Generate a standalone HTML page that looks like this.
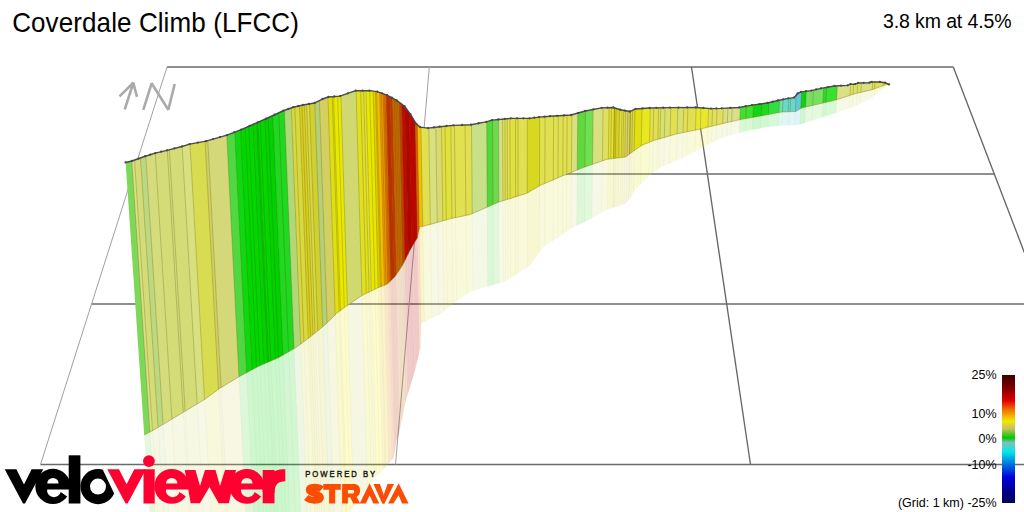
<!DOCTYPE html>
<html><head><meta charset="utf-8"><style>
html,body{margin:0;padding:0;background:#fff;}
body{width:1024px;height:512px;position:relative;overflow:hidden;font-family:"Liberation Sans",sans-serif;}
</style></head><body>
<svg width="1024" height="512" viewBox="0 0 1024 512" style="position:absolute;left:0;top:0">
<defs>
<clipPath id="cw"><polygon points="125.6,162.3 131.9,160.8 145.2,156.1 155.3,153 167,150.2 181.9,146.3 189.7,144 206,141 227,135 241.3,129.5 266,118.6 283.4,110.6 293.2,107.1 303,104.8 314.7,102.8 322.5,98.9 328.4,96.8 340,96 355.7,90.5 369.4,90.5 377.2,91.5 387,95 396.7,100.3 404.5,106.1 410.4,114 416.25,123.7 420.2,127 428,128 439.7,126.6 453.4,125.2 471,124.6 486.25,121.7 492,120 510.9,118.2 529.6,118.2 539,117 550,116.1 571.1,114.9 585.2,110.8 601.6,107.7 613.3,107.3 620.3,109.6 629.7,111.4 635.5,108.8 649.6,107.9 670,107.5 695.8,107.3 711,108.5 721.6,108.2 739.1,107.3 752,105 767.3,102.9 778,100.3 788.4,98.2 794,97.5 797.6,93.4 801,91.7 811.3,90.5 821,88.2 834.5,85.8 847.6,85.2 850.5,84 855.2,84 858.2,82.8 869.3,82.6 871.6,81.8 879.8,81.8 885.1,82.6 889,84.3 889,84.3 885.5,84.8 871.4,89.9 856,93.4 834.8,100.3 801.6,108 795.7,111.5 782,112 764.5,115.3 739,119.8 720,124.2 696,130 676.25,134 653.75,140.5 642,145.2 635,150 625.6,157 606.9,159.3 583.4,167.5 560,176.9 540.5,185.3 526.5,193.4 498.4,202.2 470.3,214.5 450,218.75 434,223.4 420,227 417.6,237.5 410.6,249.2 402.7,265 395.1,276.5 387.5,284.1 377.4,288 362,295.5 347,305.7 336.75,313.3 326.6,323.5 311.4,336.1 296,347.6 278.4,357.7 258,366.6 239,376.75 220,388.2 203.75,400 153.75,430 144.2,435"/></clipPath>
<clipPath id="cf"><polygon points="144.2,435 153.75,430 203.75,400 220,388.2 239,376.75 258,366.6 278.4,357.7 296,347.6 311.4,336.1 326.6,323.5 336.75,313.3 347,305.7 362,295.5 377.4,288 387.5,284.1 395.1,276.5 402.7,265 410.6,249.2 417.6,237.5 420,227 434,223.4 450,218.75 470.3,214.5 498.4,202.2 526.5,193.4 540.5,185.3 560,176.9 583.4,167.5 606.9,159.3 625.6,157 635,150 642,145.2 653.75,140.5 676.25,134 696,130 720,124.2 739,119.8 764.5,115.3 782,112 795.7,111.5 801.6,108 834.8,100.3 856,93.4 871.4,89.9 885.5,84.8 889,84.3 885.5,86.4 871.4,98.1 855,106.3 834.5,113.4 810.5,121 797.6,125 780,125.7 767.3,126.9 739.1,132.8 720.3,138.2 700.6,148.75 681.9,158.1 660.8,167.5 649,175.7 635,189.8 630.3,198 625.6,203.8 606.9,209.7 590.5,219 569.4,229.6 560,236.6 544,246 530,265.4 505.4,281.2 470.3,291.8 452.7,304 439.4,314.7 421,323.4 420.6,347.5 414.4,372.5 405,403.75 398.75,435 396.7,440 393.6,458 386.6,466 372.5,480 350,512 149.5,512"/></clipPath>
<linearGradient id="lg" x1="0" y1="0" x2="0" y2="1"><stop offset="0" stop-color="#3a0000"/><stop offset="0.1" stop-color="#800000"/><stop offset="0.2" stop-color="#e00000"/><stop offset="0.27" stop-color="#f07000"/><stop offset="0.36" stop-color="#f0e800"/><stop offset="0.42" stop-color="#c8c060"/><stop offset="0.49" stop-color="#00c800"/><stop offset="0.53" stop-color="#80c0c0"/><stop offset="0.6" stop-color="#00e8e8"/><stop offset="0.7" stop-color="#0070e0"/><stop offset="0.8" stop-color="#0000d8"/><stop offset="1" stop-color="#000050"/></linearGradient>
</defs>
<g stroke="#6a6a6a" stroke-width="1.3" fill="none">
<line x1="167" y1="67" x2="953.3" y2="67"/>
<line x1="133" y1="174" x2="995" y2="174"/>
<line x1="91.6" y1="304" x2="1024" y2="304"/>
<line x1="40.5" y1="464.5" x2="1024" y2="464.5"/>
</g>
<g stroke="#a0a0a0" stroke-width="1.0" fill="none">
<line x1="167" y1="67" x2="40.5" y2="464.5"/>
<line x1="429.3" y1="67" x2="395.5" y2="464.5"/>
</g>
<g stroke="#666" stroke-width="1.35" fill="none">
<line x1="691.5" y1="67" x2="750.5" y2="464.5"/>
<line x1="953.3" y1="67" x2="1105.5" y2="464.5"/>
</g>
<g stroke="#aaaaaa" stroke-width="2.6" fill="none" stroke-linecap="butt" stroke-linejoin="bevel">
<path d="M124.7,109.5 L133.3,82.8 M119.5,96.4 L133.3,82.8 L137,96.9"/>
<path d="M143.3,109.8 L151.6,83.3 L168.3,109.8 L174.7,84"/>
</g>
<g clip-path="url(#cf)" opacity="0.2">
<polygon points="112.78,60 125.55,60 156.33,520 144.51,520" fill="#7dd858"/>
<polygon points="125.05,60 128.38,60 158.95,520 155.83,520" fill="#d8e080"/>
<polygon points="127.88,60 134.57,60 164.66,520 158.45,520" fill="#d4dc78"/>
<polygon points="134.07,60 140.14,60 169.8,520 164.16,520" fill="#bcd880"/>
<polygon points="139.64,60 149.87,60 178.79,520 169.3,520" fill="#d4dc7c"/>
<polygon points="149.37,60 162.34,60 190.29,520 178.29,520" fill="#d4dc78"/>
<polygon points="161.84,60 164.47,60 192.26,520 189.79,520" fill="#d2da74"/>
<polygon points="163.97,60 177.64,60 204.42,520 191.76,520" fill="#d4dc78"/>
<polygon points="177.14,60 185.75,60 211.9,520 203.92,520" fill="#d8e080"/>
<polygon points="185.25,60 201.16,60 226.12,520 211.4,520" fill="#d8dc50"/>
<polygon points="200.66,60 204,60 228.74,520 225.62,520" fill="#d0d060"/>
<polygon points="203.5,60 223.46,60 246.71,520 228.24,520" fill="#d4d878"/>
<polygon points="222.96,60 231.77,60 254.38,520 246.21,520" fill="#50d840"/>
<polygon points="231.27,60 237.75,60 259.9,520 253.88,520" fill="#10d810"/>
<polygon points="237.25,60 250.62,60 271.78,520 259.4,520" fill="#00d800"/>
<polygon points="250.12,60 255.69,60 276.46,520 271.28,520" fill="#00d400"/>
<polygon points="255.19,60 262.78,60 283.01,520 275.96,520" fill="#00d800"/>
<polygon points="262.28,60 270.89,60 290.49,520 282.51,520" fill="#00d200"/>
<polygon points="270.39,60 282.85,60 301.53,520 289.99,520" fill="#20d820"/>
<polygon points="282.35,60 289.95,60 308.08,520 301.03,520" fill="#b0d878"/>
<polygon points="289.45,60 298.26,60 315.75,520 307.58,520" fill="#d8d840"/>
<polygon points="297.76,60 303.33,60 320.43,520 315.25,520" fill="#d8d020"/>
<polygon points="302.83,60 308.39,60 325.11,520 319.93,520" fill="#d8d840"/>
<polygon points="307.89,60 313.77,60 330.06,520 324.61,520" fill="#d0d030"/>
<polygon points="313.27,60 318.53,60 334.46,520 329.56,520" fill="#b4d078"/>
<polygon points="318.03,60 327.25,60 342.51,520 333.96,520" fill="#d4d060"/>
<polygon points="326.75,60 332.92,60 347.75,520 342.01,520" fill="#e0e010"/>
<polygon points="332.42,60 340.32,60 354.58,520 347.25,520" fill="#e8e800"/>
<polygon points="339.82,60 355.73,60 368.8,520 354.08,520" fill="#d0d870"/>
<polygon points="355.23,60 363.33,60 375.81,520 368.3,520" fill="#e0e020"/>
<polygon points="362.83,60 365.66,60 377.96,520 375.31,520" fill="#e0e040"/>
<polygon points="365.16,60 372.86,60 384.61,520 377.46,520" fill="#e8e800"/>
<polygon points="372.36,60 375.19,60 386.76,520 384.11,520" fill="#e0d000"/>
<polygon points="374.69,60 379.34,60 390.59,520 386.26,520" fill="#f0c000"/>
<polygon points="378.84,60 382.89,60 393.87,520 390.09,520" fill="#f09800"/>
<polygon points="382.39,60 385.93,60 396.67,520 393.37,520" fill="#e07000"/>
<polygon points="385.43,60 389.48,60 399.95,520 396.17,520" fill="#c83000"/>
<polygon points="388.98,60 391.81,60 402.1,520 399.45,520" fill="#d04000"/>
<polygon points="391.31,60 394.24,60 404.35,520 401.6,520" fill="#d06000"/>
<polygon points="393.74,60 398.91,60 408.65,520 403.85,520" fill="#c87000"/>
<polygon points="398.41,60 401.34,60 410.9,520 408.15,520" fill="#c04000"/>
<polygon points="400.84,60 404.89,60 414.17,520 410.4,520" fill="#c80800"/>
<polygon points="404.39,60 408.43,60 417.44,520 413.67,520" fill="#b80000"/>
<polygon points="407.93,60 414.41,60 422.96,520 416.94,520" fill="#c80000"/>
<polygon points="413.91,60 416.74,60 425.12,520 422.46,520" fill="#d86000"/>
<polygon points="416.24,60 420.29,60 428.39,520 424.62,520" fill="#f0c000"/>
<polygon points="419.79,60 428.2,60 435.69,520 427.89,520" fill="#e0e050"/>
<polygon points="427.7,60 435.29,60 442.24,520 435.19,520" fill="#d8e080"/>
<polygon points="434.79,60 441.07,60 447.57,520 441.74,520" fill="#d8dc70"/>
<polygon points="440.57,60 450.5,60 456.27,520 447.07,520" fill="#e0e040"/>
<polygon points="450,60 464.89,60 469.55,520 455.77,520" fill="#e0e050"/>
<polygon points="464.39,60 471.38,60 475.54,520 469.05,520" fill="#e0e050"/>
<polygon points="470.88,60 486.78,60 489.76,520 475.04,520" fill="#c8e088"/>
<polygon points="486.28,60 492.76,60 495.28,520 489.26,520" fill="#50d838"/>
<polygon points="492.26,60 498.74,60 500.8,520 494.78,520" fill="#70d850"/>
<polygon points="498.24,60 502.9,60 504.64,520 500.3,520" fill="#d0e088"/>
<polygon points="502.4,60 510.3,60 511.47,520 504.14,520" fill="#e0e050"/>
<polygon points="509.8,60 518.41,60 518.95,520 510.97,520" fill="#e0e040"/>
<polygon points="517.91,60 527.83,60 527.65,520 518.45,520" fill="#e0e050"/>
<polygon points="527.33,60 540.3,60 539.16,520 527.15,520" fill="#d8d820"/>
<polygon points="539.8,60 554.39,60 552.16,520 538.66,520" fill="#e0e050"/>
<polygon points="553.89,60 559.15,60 556.56,520 551.66,520" fill="#e0e050"/>
<polygon points="558.65,60 572.83,60 569.19,520 556.06,520" fill="#e0e050"/>
<polygon points="572.33,60 578.71,60 574.62,520 568.69,520" fill="#d8e080"/>
<polygon points="578.21,60 586.52,60 581.82,520 574.12,520" fill="#60d840"/>
<polygon points="586.02,60 594.22,60 588.93,520 581.32,520" fill="#70e050"/>
<polygon points="593.72,60 604.25,60 598.19,520 588.43,520" fill="#d8e080"/>
<polygon points="603.75,60 610.23,60 603.71,520 597.69,520" fill="#e0e060"/>
<polygon points="609.73,60 615.71,60 608.76,520 603.21,520" fill="#e0e030"/>
<polygon points="615.21,60 620.88,60 613.54,520 608.26,520" fill="#d8d020"/>
<polygon points="620.38,60 626.86,60 619.05,520 613.04,520" fill="#e0e040"/>
<polygon points="626.36,60 631.92,60 623.73,520 618.55,520" fill="#d8d060"/>
<polygon points="631.42,60 636.38,60 627.85,520 623.23,520" fill="#d8d840"/>
<polygon points="635.88,60 643.48,60 634.4,520 627.35,520" fill="#e0e010"/>
<polygon points="642.98,60 651.79,60 642.07,520 633.9,520" fill="#e8e820"/>
<polygon points="651.29,60 662.33,60 651.8,520 641.57,520" fill="#e0e050"/>
<polygon points="661.83,60 672.47,60 661.15,520 651.3,520" fill="#d8e070"/>
<polygon points="671.97,60 679.56,60 667.7,520 660.65,520" fill="#e0e050"/>
<polygon points="679.06,60 685.54,60 673.22,520 667.2,520" fill="#d8e070"/>
<polygon points="685.04,60 698.01,60 684.73,520 672.72,520" fill="#e0e050"/>
<polygon points="697.51,60 710.48,60 696.24,520 684.23,520" fill="#e8e830"/>
<polygon points="709.98,60 714.63,60 700.07,520 695.74,520" fill="#e0e050"/>
<polygon points="714.13,60 725.38,60 709.99,520 699.57,520" fill="#e0e060"/>
<polygon points="724.88,60 730.04,60 714.29,520 709.49,520" fill="#d8e080"/>
<polygon points="729.54,60 742.51,60 725.8,520 713.79,520" fill="#d8e088"/>
<polygon points="742.01,60 755.58,60 737.87,520 725.3,520" fill="#40e030"/>
<polygon points="755.08,60 763.89,60 745.54,520 737.37,520" fill="#10d810"/>
<polygon points="763.39,60 771.09,60 752.18,520 745.04,520" fill="#20d820"/>
<polygon points="770.59,60 781.73,60 762.01,520 751.68,520" fill="#30e040"/>
<polygon points="781.23,60 785.28,60 765.28,520 761.51,520" fill="#70e0a0"/>
<polygon points="784.78,60 798.15,60 777.16,520 764.78,520" fill="#68d8c8"/>
<polygon points="797.65,60 803.52,60 782.12,520 776.66,520" fill="#60c8d8"/>
<polygon points="803.02,60 808.29,60 786.52,520 781.62,520" fill="#10d010"/>
<polygon points="807.79,60 825.52,60 802.42,520 786.02,520" fill="#78e060"/>
<polygon points="825.02,60 828.56,60 805.23,520 801.92,520" fill="#30d830"/>
<polygon points="828.06,60 839.2,60 815.05,520 804.73,520" fill="#38e030"/>
<polygon points="838.7,60 852.48,60 827.31,520 814.55,520" fill="#d8e088"/>
<polygon points="851.98,60 855.42,60 830.02,520 826.81,520" fill="#e0e060"/>
<polygon points="854.92,60 859.57,60 833.86,520 829.52,520" fill="#d8e070"/>
<polygon points="859.07,60 863.22,60 837.23,520 833.36,520" fill="#e0e060"/>
<polygon points="862.72,60 874.47,60 847.61,520 836.73,520" fill="#d8e080"/>
<polygon points="873.97,60 876.8,60 849.76,520 847.11,520" fill="#e0e050"/>
<polygon points="876.3,60 885.11,60 857.43,520 849.26,520" fill="#e0e050"/>
<polygon points="884.61,60 900.52,60 871.65,520 856.93,520" fill="#e8e000"/>
</g>
<g clip-path="url(#cf)" stroke="#000" stroke-opacity="0.035" stroke-width="0.8">
<line x1="125.05" y1="60" x2="155.83" y2="520"/>
<line x1="127.88" y1="60" x2="158.45" y2="520"/>
<line x1="134.07" y1="60" x2="164.16" y2="520"/>
<line x1="139.64" y1="60" x2="169.3" y2="520"/>
<line x1="149.37" y1="60" x2="178.29" y2="520"/>
<line x1="161.84" y1="60" x2="189.79" y2="520"/>
<line x1="163.97" y1="60" x2="191.76" y2="520"/>
<line x1="177.14" y1="60" x2="203.92" y2="520"/>
<line x1="185.25" y1="60" x2="211.4" y2="520"/>
<line x1="200.66" y1="60" x2="225.62" y2="520"/>
<line x1="203.5" y1="60" x2="228.24" y2="520"/>
<line x1="222.96" y1="60" x2="246.21" y2="520"/>
<line x1="231.27" y1="60" x2="253.88" y2="520"/>
<line x1="237.25" y1="60" x2="259.4" y2="520"/>
<line x1="250.12" y1="60" x2="271.28" y2="520"/>
<line x1="255.19" y1="60" x2="275.96" y2="520"/>
<line x1="262.28" y1="60" x2="282.51" y2="520"/>
<line x1="270.39" y1="60" x2="289.99" y2="520"/>
<line x1="282.35" y1="60" x2="301.03" y2="520"/>
<line x1="289.45" y1="60" x2="307.58" y2="520"/>
<line x1="297.76" y1="60" x2="315.25" y2="520"/>
<line x1="302.83" y1="60" x2="319.93" y2="520"/>
<line x1="307.89" y1="60" x2="324.61" y2="520"/>
<line x1="313.27" y1="60" x2="329.56" y2="520"/>
<line x1="318.03" y1="60" x2="333.96" y2="520"/>
<line x1="326.75" y1="60" x2="342.01" y2="520"/>
<line x1="332.42" y1="60" x2="347.25" y2="520"/>
<line x1="339.82" y1="60" x2="354.08" y2="520"/>
<line x1="355.23" y1="60" x2="368.3" y2="520"/>
<line x1="362.83" y1="60" x2="375.31" y2="520"/>
<line x1="365.16" y1="60" x2="377.46" y2="520"/>
<line x1="372.36" y1="60" x2="384.11" y2="520"/>
<line x1="374.69" y1="60" x2="386.26" y2="520"/>
<line x1="378.84" y1="60" x2="390.09" y2="520"/>
<line x1="382.39" y1="60" x2="393.37" y2="520"/>
<line x1="385.43" y1="60" x2="396.17" y2="520"/>
<line x1="388.98" y1="60" x2="399.45" y2="520"/>
<line x1="391.31" y1="60" x2="401.6" y2="520"/>
<line x1="393.74" y1="60" x2="403.85" y2="520"/>
<line x1="398.41" y1="60" x2="408.15" y2="520"/>
<line x1="400.84" y1="60" x2="410.4" y2="520"/>
<line x1="404.39" y1="60" x2="413.67" y2="520"/>
<line x1="407.93" y1="60" x2="416.94" y2="520"/>
<line x1="413.91" y1="60" x2="422.46" y2="520"/>
<line x1="416.24" y1="60" x2="424.62" y2="520"/>
<line x1="419.79" y1="60" x2="427.89" y2="520"/>
<line x1="427.7" y1="60" x2="435.19" y2="520"/>
<line x1="434.79" y1="60" x2="441.74" y2="520"/>
<line x1="440.57" y1="60" x2="447.07" y2="520"/>
<line x1="450" y1="60" x2="455.77" y2="520"/>
<line x1="464.39" y1="60" x2="469.05" y2="520"/>
<line x1="470.88" y1="60" x2="475.04" y2="520"/>
<line x1="486.28" y1="60" x2="489.26" y2="520"/>
<line x1="492.26" y1="60" x2="494.78" y2="520"/>
<line x1="498.24" y1="60" x2="500.3" y2="520"/>
<line x1="502.4" y1="60" x2="504.14" y2="520"/>
<line x1="509.8" y1="60" x2="510.97" y2="520"/>
<line x1="517.91" y1="60" x2="518.45" y2="520"/>
<line x1="527.33" y1="60" x2="527.15" y2="520"/>
<line x1="539.8" y1="60" x2="538.66" y2="520"/>
<line x1="553.89" y1="60" x2="551.66" y2="520"/>
<line x1="558.65" y1="60" x2="556.06" y2="520"/>
<line x1="572.33" y1="60" x2="568.69" y2="520"/>
<line x1="578.21" y1="60" x2="574.12" y2="520"/>
<line x1="586.02" y1="60" x2="581.32" y2="520"/>
<line x1="593.72" y1="60" x2="588.43" y2="520"/>
<line x1="603.75" y1="60" x2="597.69" y2="520"/>
<line x1="609.73" y1="60" x2="603.21" y2="520"/>
<line x1="615.21" y1="60" x2="608.26" y2="520"/>
<line x1="620.38" y1="60" x2="613.04" y2="520"/>
<line x1="626.36" y1="60" x2="618.55" y2="520"/>
<line x1="631.42" y1="60" x2="623.23" y2="520"/>
<line x1="635.88" y1="60" x2="627.35" y2="520"/>
<line x1="642.98" y1="60" x2="633.9" y2="520"/>
<line x1="651.29" y1="60" x2="641.57" y2="520"/>
<line x1="661.83" y1="60" x2="651.3" y2="520"/>
<line x1="671.97" y1="60" x2="660.65" y2="520"/>
<line x1="679.06" y1="60" x2="667.2" y2="520"/>
<line x1="685.04" y1="60" x2="672.72" y2="520"/>
<line x1="697.51" y1="60" x2="684.23" y2="520"/>
<line x1="709.98" y1="60" x2="695.74" y2="520"/>
<line x1="714.13" y1="60" x2="699.57" y2="520"/>
<line x1="724.88" y1="60" x2="709.49" y2="520"/>
<line x1="729.54" y1="60" x2="713.79" y2="520"/>
<line x1="742.01" y1="60" x2="725.3" y2="520"/>
<line x1="755.08" y1="60" x2="737.37" y2="520"/>
<line x1="763.39" y1="60" x2="745.04" y2="520"/>
<line x1="770.59" y1="60" x2="751.68" y2="520"/>
<line x1="781.23" y1="60" x2="761.51" y2="520"/>
<line x1="784.78" y1="60" x2="764.78" y2="520"/>
<line x1="797.65" y1="60" x2="776.66" y2="520"/>
<line x1="803.02" y1="60" x2="781.62" y2="520"/>
<line x1="807.79" y1="60" x2="786.02" y2="520"/>
<line x1="825.02" y1="60" x2="801.92" y2="520"/>
<line x1="828.06" y1="60" x2="804.73" y2="520"/>
<line x1="838.7" y1="60" x2="814.55" y2="520"/>
<line x1="851.98" y1="60" x2="826.81" y2="520"/>
<line x1="854.92" y1="60" x2="829.52" y2="520"/>
<line x1="859.07" y1="60" x2="833.36" y2="520"/>
<line x1="862.72" y1="60" x2="836.73" y2="520"/>
<line x1="873.97" y1="60" x2="847.11" y2="520"/>
<line x1="876.3" y1="60" x2="849.26" y2="520"/>
<line x1="884.61" y1="60" x2="856.93" y2="520"/>
<line x1="242.01" y1="60" x2="263.79" y2="520"/>
<line x1="245.56" y1="60" x2="267.07" y2="520"/>
<line x1="253.87" y1="60" x2="274.74" y2="520"/>
<line x1="257.42" y1="60" x2="278.01" y2="520"/>
<line x1="265.73" y1="60" x2="285.69" y2="520"/>
<line x1="276.47" y1="60" x2="295.6" y2="520"/>
<line x1="292.99" y1="60" x2="310.85" y2="520"/>
<line x1="300.19" y1="60" x2="317.5" y2="520"/>
<line x1="304.95" y1="60" x2="321.89" y2="520"/>
<line x1="331.1" y1="60" x2="346.03" y2="520"/>
<line x1="336.48" y1="60" x2="350.99" y2="520"/>
<line x1="444.12" y1="60" x2="450.34" y2="520"/>
<line x1="453.64" y1="60" x2="459.14" y2="520"/>
<line x1="504.73" y1="60" x2="506.29" y2="520"/>
<line x1="507.06" y1="60" x2="508.44" y2="520"/>
<line x1="515.37" y1="60" x2="516.11" y2="520"/>
<line x1="545.27" y1="60" x2="543.71" y2="520"/>
<line x1="563.52" y1="60" x2="560.55" y2="520"/>
<line x1="567.57" y1="60" x2="564.29" y2="520"/>
<line x1="612.17" y1="60" x2="605.46" y2="520"/>
<line x1="615.11" y1="60" x2="608.17" y2="520"/>
<line x1="616.83" y1="60" x2="609.76" y2="520"/>
<line x1="622.81" y1="60" x2="615.28" y2="520"/>
<line x1="624.53" y1="60" x2="616.87" y2="520"/>
<line x1="628.79" y1="60" x2="620.8" y2="520"/>
<line x1="631.12" y1="60" x2="622.95" y2="520"/>
<line x1="633.45" y1="60" x2="625.1" y2="520"/>
<line x1="654.84" y1="60" x2="644.84" y2="520"/>
<line x1="659.6" y1="60" x2="649.24" y2="520"/>
<line x1="666.19" y1="60" x2="655.32" y2="520"/>
<line x1="689.2" y1="60" x2="676.56" y2="520"/>
<line x1="702.37" y1="60" x2="688.72" y2="520"/>
<line x1="718.59" y1="60" x2="703.69" y2="520"/>
<line x1="733.8" y1="60" x2="717.72" y2="520"/>
<line x1="747.99" y1="60" x2="730.82" y2="520"/>
<line x1="790.55" y1="60" x2="770.11" y2="520"/>
<line x1="792.38" y1="60" x2="771.8" y2="520"/>
<line x1="814.88" y1="60" x2="792.57" y2="520"/>
<line x1="359.79" y1="60" x2="372.51" y2="520"/>
<line x1="368.91" y1="60" x2="380.93" y2="520"/>
<line x1="375.8" y1="60" x2="387.29" y2="520"/>
<line x1="380.57" y1="60" x2="391.68" y2="520"/>
<line x1="384.11" y1="60" x2="394.96" y2="520"/>
<line x1="387.15" y1="60" x2="397.77" y2="520"/>
<line x1="390.2" y1="60" x2="400.57" y2="520"/>
<line x1="395.26" y1="60" x2="405.25" y2="520"/>
<line x1="396.78" y1="60" x2="406.65" y2="520"/>
<line x1="402.36" y1="60" x2="411.8" y2="520"/>
<line x1="406.41" y1="60" x2="415.54" y2="520"/>
<line x1="410.47" y1="60" x2="419.28" y2="520"/>
<line x1="411.99" y1="60" x2="420.69" y2="520"/>
</g>
<g clip-path="url(#cw)">
<polygon points="112.78,60 125.55,60 156.33,520 144.51,520" fill="#7dd858"/>
<polygon points="125.05,60 128.38,60 158.95,520 155.83,520" fill="#d8e080"/>
<polygon points="127.88,60 134.57,60 164.66,520 158.45,520" fill="#d4dc78"/>
<polygon points="134.07,60 140.14,60 169.8,520 164.16,520" fill="#bcd880"/>
<polygon points="139.64,60 149.87,60 178.79,520 169.3,520" fill="#d4dc7c"/>
<polygon points="149.37,60 162.34,60 190.29,520 178.29,520" fill="#d4dc78"/>
<polygon points="161.84,60 164.47,60 192.26,520 189.79,520" fill="#d2da74"/>
<polygon points="163.97,60 177.64,60 204.42,520 191.76,520" fill="#d4dc78"/>
<polygon points="177.14,60 185.75,60 211.9,520 203.92,520" fill="#d8e080"/>
<polygon points="185.25,60 201.16,60 226.12,520 211.4,520" fill="#d8dc50"/>
<polygon points="200.66,60 204,60 228.74,520 225.62,520" fill="#d0d060"/>
<polygon points="203.5,60 223.46,60 246.71,520 228.24,520" fill="#d4d878"/>
<polygon points="222.96,60 231.77,60 254.38,520 246.21,520" fill="#50d840"/>
<polygon points="231.27,60 237.75,60 259.9,520 253.88,520" fill="#10d810"/>
<polygon points="237.25,60 250.62,60 271.78,520 259.4,520" fill="#00d800"/>
<polygon points="250.12,60 255.69,60 276.46,520 271.28,520" fill="#00d400"/>
<polygon points="255.19,60 262.78,60 283.01,520 275.96,520" fill="#00d800"/>
<polygon points="262.28,60 270.89,60 290.49,520 282.51,520" fill="#00d200"/>
<polygon points="270.39,60 282.85,60 301.53,520 289.99,520" fill="#20d820"/>
<polygon points="282.35,60 289.95,60 308.08,520 301.03,520" fill="#b0d878"/>
<polygon points="289.45,60 298.26,60 315.75,520 307.58,520" fill="#d8d840"/>
<polygon points="297.76,60 303.33,60 320.43,520 315.25,520" fill="#d8d020"/>
<polygon points="302.83,60 308.39,60 325.11,520 319.93,520" fill="#d8d840"/>
<polygon points="307.89,60 313.77,60 330.06,520 324.61,520" fill="#d0d030"/>
<polygon points="313.27,60 318.53,60 334.46,520 329.56,520" fill="#b4d078"/>
<polygon points="318.03,60 327.25,60 342.51,520 333.96,520" fill="#d4d060"/>
<polygon points="326.75,60 332.92,60 347.75,520 342.01,520" fill="#e0e010"/>
<polygon points="332.42,60 340.32,60 354.58,520 347.25,520" fill="#e8e800"/>
<polygon points="339.82,60 355.73,60 368.8,520 354.08,520" fill="#d0d870"/>
<polygon points="355.23,60 363.33,60 375.81,520 368.3,520" fill="#e0e020"/>
<polygon points="362.83,60 365.66,60 377.96,520 375.31,520" fill="#e0e040"/>
<polygon points="365.16,60 372.86,60 384.61,520 377.46,520" fill="#e8e800"/>
<polygon points="372.36,60 375.19,60 386.76,520 384.11,520" fill="#e0d000"/>
<polygon points="374.69,60 379.34,60 390.59,520 386.26,520" fill="#f0c000"/>
<polygon points="378.84,60 382.89,60 393.87,520 390.09,520" fill="#f09800"/>
<polygon points="382.39,60 385.93,60 396.67,520 393.37,520" fill="#e07000"/>
<polygon points="385.43,60 389.48,60 399.95,520 396.17,520" fill="#c83000"/>
<polygon points="388.98,60 391.81,60 402.1,520 399.45,520" fill="#d04000"/>
<polygon points="391.31,60 394.24,60 404.35,520 401.6,520" fill="#d06000"/>
<polygon points="393.74,60 398.91,60 408.65,520 403.85,520" fill="#c87000"/>
<polygon points="398.41,60 401.34,60 410.9,520 408.15,520" fill="#c04000"/>
<polygon points="400.84,60 404.89,60 414.17,520 410.4,520" fill="#c80800"/>
<polygon points="404.39,60 408.43,60 417.44,520 413.67,520" fill="#b80000"/>
<polygon points="407.93,60 414.41,60 422.96,520 416.94,520" fill="#c80000"/>
<polygon points="413.91,60 416.74,60 425.12,520 422.46,520" fill="#d86000"/>
<polygon points="416.24,60 420.29,60 428.39,520 424.62,520" fill="#f0c000"/>
<polygon points="419.79,60 428.2,60 435.69,520 427.89,520" fill="#e0e050"/>
<polygon points="427.7,60 435.29,60 442.24,520 435.19,520" fill="#d8e080"/>
<polygon points="434.79,60 441.07,60 447.57,520 441.74,520" fill="#d8dc70"/>
<polygon points="440.57,60 450.5,60 456.27,520 447.07,520" fill="#e0e040"/>
<polygon points="450,60 464.89,60 469.55,520 455.77,520" fill="#e0e050"/>
<polygon points="464.39,60 471.38,60 475.54,520 469.05,520" fill="#e0e050"/>
<polygon points="470.88,60 486.78,60 489.76,520 475.04,520" fill="#c8e088"/>
<polygon points="486.28,60 492.76,60 495.28,520 489.26,520" fill="#50d838"/>
<polygon points="492.26,60 498.74,60 500.8,520 494.78,520" fill="#70d850"/>
<polygon points="498.24,60 502.9,60 504.64,520 500.3,520" fill="#d0e088"/>
<polygon points="502.4,60 510.3,60 511.47,520 504.14,520" fill="#e0e050"/>
<polygon points="509.8,60 518.41,60 518.95,520 510.97,520" fill="#e0e040"/>
<polygon points="517.91,60 527.83,60 527.65,520 518.45,520" fill="#e0e050"/>
<polygon points="527.33,60 540.3,60 539.16,520 527.15,520" fill="#d8d820"/>
<polygon points="539.8,60 554.39,60 552.16,520 538.66,520" fill="#e0e050"/>
<polygon points="553.89,60 559.15,60 556.56,520 551.66,520" fill="#e0e050"/>
<polygon points="558.65,60 572.83,60 569.19,520 556.06,520" fill="#e0e050"/>
<polygon points="572.33,60 578.71,60 574.62,520 568.69,520" fill="#d8e080"/>
<polygon points="578.21,60 586.52,60 581.82,520 574.12,520" fill="#60d840"/>
<polygon points="586.02,60 594.22,60 588.93,520 581.32,520" fill="#70e050"/>
<polygon points="593.72,60 604.25,60 598.19,520 588.43,520" fill="#d8e080"/>
<polygon points="603.75,60 610.23,60 603.71,520 597.69,520" fill="#e0e060"/>
<polygon points="609.73,60 615.71,60 608.76,520 603.21,520" fill="#e0e030"/>
<polygon points="615.21,60 620.88,60 613.54,520 608.26,520" fill="#d8d020"/>
<polygon points="620.38,60 626.86,60 619.05,520 613.04,520" fill="#e0e040"/>
<polygon points="626.36,60 631.92,60 623.73,520 618.55,520" fill="#d8d060"/>
<polygon points="631.42,60 636.38,60 627.85,520 623.23,520" fill="#d8d840"/>
<polygon points="635.88,60 643.48,60 634.4,520 627.35,520" fill="#e0e010"/>
<polygon points="642.98,60 651.79,60 642.07,520 633.9,520" fill="#e8e820"/>
<polygon points="651.29,60 662.33,60 651.8,520 641.57,520" fill="#e0e050"/>
<polygon points="661.83,60 672.47,60 661.15,520 651.3,520" fill="#d8e070"/>
<polygon points="671.97,60 679.56,60 667.7,520 660.65,520" fill="#e0e050"/>
<polygon points="679.06,60 685.54,60 673.22,520 667.2,520" fill="#d8e070"/>
<polygon points="685.04,60 698.01,60 684.73,520 672.72,520" fill="#e0e050"/>
<polygon points="697.51,60 710.48,60 696.24,520 684.23,520" fill="#e8e830"/>
<polygon points="709.98,60 714.63,60 700.07,520 695.74,520" fill="#e0e050"/>
<polygon points="714.13,60 725.38,60 709.99,520 699.57,520" fill="#e0e060"/>
<polygon points="724.88,60 730.04,60 714.29,520 709.49,520" fill="#d8e080"/>
<polygon points="729.54,60 742.51,60 725.8,520 713.79,520" fill="#d8e088"/>
<polygon points="742.01,60 755.58,60 737.87,520 725.3,520" fill="#40e030"/>
<polygon points="755.08,60 763.89,60 745.54,520 737.37,520" fill="#10d810"/>
<polygon points="763.39,60 771.09,60 752.18,520 745.04,520" fill="#20d820"/>
<polygon points="770.59,60 781.73,60 762.01,520 751.68,520" fill="#30e040"/>
<polygon points="781.23,60 785.28,60 765.28,520 761.51,520" fill="#70e0a0"/>
<polygon points="784.78,60 798.15,60 777.16,520 764.78,520" fill="#68d8c8"/>
<polygon points="797.65,60 803.52,60 782.12,520 776.66,520" fill="#60c8d8"/>
<polygon points="803.02,60 808.29,60 786.52,520 781.62,520" fill="#10d010"/>
<polygon points="807.79,60 825.52,60 802.42,520 786.02,520" fill="#78e060"/>
<polygon points="825.02,60 828.56,60 805.23,520 801.92,520" fill="#30d830"/>
<polygon points="828.06,60 839.2,60 815.05,520 804.73,520" fill="#38e030"/>
<polygon points="838.7,60 852.48,60 827.31,520 814.55,520" fill="#d8e088"/>
<polygon points="851.98,60 855.42,60 830.02,520 826.81,520" fill="#e0e060"/>
<polygon points="854.92,60 859.57,60 833.86,520 829.52,520" fill="#d8e070"/>
<polygon points="859.07,60 863.22,60 837.23,520 833.36,520" fill="#e0e060"/>
<polygon points="862.72,60 874.47,60 847.61,520 836.73,520" fill="#d8e080"/>
<polygon points="873.97,60 876.8,60 849.76,520 847.11,520" fill="#e0e050"/>
<polygon points="876.3,60 885.11,60 857.43,520 849.26,520" fill="#e0e050"/>
<polygon points="884.61,60 900.52,60 871.65,520 856.93,520" fill="#e8e000"/>
<g stroke="#504000" stroke-opacity="0.3" stroke-width="0.8">
<line x1="125.05" y1="60" x2="155.83" y2="520"/>
<line x1="127.88" y1="60" x2="158.45" y2="520"/>
<line x1="134.07" y1="60" x2="164.16" y2="520"/>
<line x1="139.64" y1="60" x2="169.3" y2="520"/>
<line x1="149.37" y1="60" x2="178.29" y2="520"/>
<line x1="161.84" y1="60" x2="189.79" y2="520"/>
<line x1="163.97" y1="60" x2="191.76" y2="520"/>
<line x1="177.14" y1="60" x2="203.92" y2="520"/>
<line x1="185.25" y1="60" x2="211.4" y2="520"/>
<line x1="200.66" y1="60" x2="225.62" y2="520"/>
<line x1="203.5" y1="60" x2="228.24" y2="520"/>
<line x1="222.96" y1="60" x2="246.21" y2="520"/>
<line x1="231.27" y1="60" x2="253.88" y2="520"/>
<line x1="237.25" y1="60" x2="259.4" y2="520"/>
<line x1="250.12" y1="60" x2="271.28" y2="520"/>
<line x1="255.19" y1="60" x2="275.96" y2="520"/>
<line x1="262.28" y1="60" x2="282.51" y2="520"/>
<line x1="270.39" y1="60" x2="289.99" y2="520"/>
<line x1="282.35" y1="60" x2="301.03" y2="520"/>
<line x1="289.45" y1="60" x2="307.58" y2="520"/>
<line x1="297.76" y1="60" x2="315.25" y2="520"/>
<line x1="302.83" y1="60" x2="319.93" y2="520"/>
<line x1="307.89" y1="60" x2="324.61" y2="520"/>
<line x1="313.27" y1="60" x2="329.56" y2="520"/>
<line x1="318.03" y1="60" x2="333.96" y2="520"/>
<line x1="326.75" y1="60" x2="342.01" y2="520"/>
<line x1="332.42" y1="60" x2="347.25" y2="520"/>
<line x1="339.82" y1="60" x2="354.08" y2="520"/>
<line x1="355.23" y1="60" x2="368.3" y2="520"/>
<line x1="362.83" y1="60" x2="375.31" y2="520"/>
<line x1="365.16" y1="60" x2="377.46" y2="520"/>
<line x1="372.36" y1="60" x2="384.11" y2="520"/>
<line x1="374.69" y1="60" x2="386.26" y2="520"/>
<line x1="378.84" y1="60" x2="390.09" y2="520"/>
<line x1="382.39" y1="60" x2="393.37" y2="520"/>
<line x1="385.43" y1="60" x2="396.17" y2="520"/>
<line x1="388.98" y1="60" x2="399.45" y2="520"/>
<line x1="391.31" y1="60" x2="401.6" y2="520"/>
<line x1="393.74" y1="60" x2="403.85" y2="520"/>
<line x1="398.41" y1="60" x2="408.15" y2="520"/>
<line x1="400.84" y1="60" x2="410.4" y2="520"/>
<line x1="404.39" y1="60" x2="413.67" y2="520"/>
<line x1="407.93" y1="60" x2="416.94" y2="520"/>
<line x1="413.91" y1="60" x2="422.46" y2="520"/>
<line x1="416.24" y1="60" x2="424.62" y2="520"/>
<line x1="419.79" y1="60" x2="427.89" y2="520"/>
<line x1="427.7" y1="60" x2="435.19" y2="520"/>
<line x1="434.79" y1="60" x2="441.74" y2="520"/>
<line x1="440.57" y1="60" x2="447.07" y2="520"/>
<line x1="450" y1="60" x2="455.77" y2="520"/>
<line x1="464.39" y1="60" x2="469.05" y2="520"/>
<line x1="470.88" y1="60" x2="475.04" y2="520"/>
<line x1="486.28" y1="60" x2="489.26" y2="520"/>
<line x1="492.26" y1="60" x2="494.78" y2="520"/>
<line x1="498.24" y1="60" x2="500.3" y2="520"/>
<line x1="502.4" y1="60" x2="504.14" y2="520"/>
<line x1="509.8" y1="60" x2="510.97" y2="520"/>
<line x1="517.91" y1="60" x2="518.45" y2="520"/>
<line x1="527.33" y1="60" x2="527.15" y2="520"/>
<line x1="539.8" y1="60" x2="538.66" y2="520"/>
<line x1="553.89" y1="60" x2="551.66" y2="520"/>
<line x1="558.65" y1="60" x2="556.06" y2="520"/>
<line x1="572.33" y1="60" x2="568.69" y2="520"/>
<line x1="578.21" y1="60" x2="574.12" y2="520"/>
<line x1="586.02" y1="60" x2="581.32" y2="520"/>
<line x1="593.72" y1="60" x2="588.43" y2="520"/>
<line x1="603.75" y1="60" x2="597.69" y2="520"/>
<line x1="609.73" y1="60" x2="603.21" y2="520"/>
<line x1="615.21" y1="60" x2="608.26" y2="520"/>
<line x1="620.38" y1="60" x2="613.04" y2="520"/>
<line x1="626.36" y1="60" x2="618.55" y2="520"/>
<line x1="631.42" y1="60" x2="623.23" y2="520"/>
<line x1="635.88" y1="60" x2="627.35" y2="520"/>
<line x1="642.98" y1="60" x2="633.9" y2="520"/>
<line x1="651.29" y1="60" x2="641.57" y2="520"/>
<line x1="661.83" y1="60" x2="651.3" y2="520"/>
<line x1="671.97" y1="60" x2="660.65" y2="520"/>
<line x1="679.06" y1="60" x2="667.2" y2="520"/>
<line x1="685.04" y1="60" x2="672.72" y2="520"/>
<line x1="697.51" y1="60" x2="684.23" y2="520"/>
<line x1="709.98" y1="60" x2="695.74" y2="520"/>
<line x1="714.13" y1="60" x2="699.57" y2="520"/>
<line x1="724.88" y1="60" x2="709.49" y2="520"/>
<line x1="729.54" y1="60" x2="713.79" y2="520"/>
<line x1="742.01" y1="60" x2="725.3" y2="520"/>
<line x1="755.08" y1="60" x2="737.37" y2="520"/>
<line x1="763.39" y1="60" x2="745.04" y2="520"/>
<line x1="770.59" y1="60" x2="751.68" y2="520"/>
<line x1="781.23" y1="60" x2="761.51" y2="520"/>
<line x1="784.78" y1="60" x2="764.78" y2="520"/>
<line x1="797.65" y1="60" x2="776.66" y2="520"/>
<line x1="803.02" y1="60" x2="781.62" y2="520"/>
<line x1="807.79" y1="60" x2="786.02" y2="520"/>
<line x1="825.02" y1="60" x2="801.92" y2="520"/>
<line x1="828.06" y1="60" x2="804.73" y2="520"/>
<line x1="838.7" y1="60" x2="814.55" y2="520"/>
<line x1="851.98" y1="60" x2="826.81" y2="520"/>
<line x1="854.92" y1="60" x2="829.52" y2="520"/>
<line x1="859.07" y1="60" x2="833.36" y2="520"/>
<line x1="862.72" y1="60" x2="836.73" y2="520"/>
<line x1="873.97" y1="60" x2="847.11" y2="520"/>
<line x1="876.3" y1="60" x2="849.26" y2="520"/>
<line x1="884.61" y1="60" x2="856.93" y2="520"/>
<line x1="242.01" y1="60" x2="263.79" y2="520"/>
<line x1="245.56" y1="60" x2="267.07" y2="520"/>
<line x1="253.87" y1="60" x2="274.74" y2="520"/>
<line x1="257.42" y1="60" x2="278.01" y2="520"/>
<line x1="265.73" y1="60" x2="285.69" y2="520"/>
<line x1="276.47" y1="60" x2="295.6" y2="520"/>
<line x1="292.99" y1="60" x2="310.85" y2="520"/>
<line x1="300.19" y1="60" x2="317.5" y2="520"/>
<line x1="304.95" y1="60" x2="321.89" y2="520"/>
<line x1="331.1" y1="60" x2="346.03" y2="520"/>
<line x1="336.48" y1="60" x2="350.99" y2="520"/>
<line x1="444.12" y1="60" x2="450.34" y2="520"/>
<line x1="453.64" y1="60" x2="459.14" y2="520"/>
<line x1="504.73" y1="60" x2="506.29" y2="520"/>
<line x1="507.06" y1="60" x2="508.44" y2="520"/>
<line x1="515.37" y1="60" x2="516.11" y2="520"/>
<line x1="545.27" y1="60" x2="543.71" y2="520"/>
<line x1="563.52" y1="60" x2="560.55" y2="520"/>
<line x1="567.57" y1="60" x2="564.29" y2="520"/>
<line x1="612.17" y1="60" x2="605.46" y2="520"/>
<line x1="615.11" y1="60" x2="608.17" y2="520"/>
<line x1="616.83" y1="60" x2="609.76" y2="520"/>
<line x1="622.81" y1="60" x2="615.28" y2="520"/>
<line x1="624.53" y1="60" x2="616.87" y2="520"/>
<line x1="628.79" y1="60" x2="620.8" y2="520"/>
<line x1="631.12" y1="60" x2="622.95" y2="520"/>
<line x1="633.45" y1="60" x2="625.1" y2="520"/>
<line x1="654.84" y1="60" x2="644.84" y2="520"/>
<line x1="659.6" y1="60" x2="649.24" y2="520"/>
<line x1="666.19" y1="60" x2="655.32" y2="520"/>
<line x1="689.2" y1="60" x2="676.56" y2="520"/>
<line x1="702.37" y1="60" x2="688.72" y2="520"/>
<line x1="718.59" y1="60" x2="703.69" y2="520"/>
<line x1="733.8" y1="60" x2="717.72" y2="520"/>
<line x1="747.99" y1="60" x2="730.82" y2="520"/>
<line x1="790.55" y1="60" x2="770.11" y2="520"/>
<line x1="792.38" y1="60" x2="771.8" y2="520"/>
<line x1="814.88" y1="60" x2="792.57" y2="520"/>
<line x1="359.79" y1="60" x2="372.51" y2="520"/>
<line x1="368.91" y1="60" x2="380.93" y2="520"/>
<line x1="375.8" y1="60" x2="387.29" y2="520"/>
<line x1="380.57" y1="60" x2="391.68" y2="520"/>
<line x1="384.11" y1="60" x2="394.96" y2="520"/>
<line x1="387.15" y1="60" x2="397.77" y2="520"/>
<line x1="390.2" y1="60" x2="400.57" y2="520"/>
<line x1="395.26" y1="60" x2="405.25" y2="520"/>
<line x1="396.78" y1="60" x2="406.65" y2="520"/>
<line x1="402.36" y1="60" x2="411.8" y2="520"/>
<line x1="406.41" y1="60" x2="415.54" y2="520"/>
<line x1="410.47" y1="60" x2="419.28" y2="520"/>
<line x1="411.99" y1="60" x2="420.69" y2="520"/>
</g>
</g>
<polyline points="144.2,435 153.75,430 203.75,400 220,388.2 239,376.75 258,366.6 278.4,357.7 296,347.6 311.4,336.1 326.6,323.5 336.75,313.3 347,305.7 362,295.5 377.4,288 387.5,284.1 395.1,276.5 402.7,265 410.6,249.2 417.6,237.5" fill="none" stroke="#807000" stroke-opacity="0.45" stroke-width="0.9"/>
<polyline points="420,227 434,223.4 450,218.75 470.3,214.5 498.4,202.2 526.5,193.4 540.5,185.3 560,176.9 583.4,167.5 606.9,159.3 625.6,157 635,150 642,145.2 653.75,140.5 676.25,134 696,130 720,124.2 739,119.8 764.5,115.3 782,112 795.7,111.5 801.6,108 834.8,100.3 856,93.4 871.4,89.9 885.5,84.8 889,84.3" fill="none" stroke="#807000" stroke-opacity="0.45" stroke-width="0.9"/>
<polyline points="125.6,162.3 131.9,160.8 145.2,156.1 155.3,153 167,150.2 181.9,146.3 189.7,144 206,141 227,135 241.3,129.5 266,118.6 283.4,110.6 293.2,107.1 303,104.8 314.7,102.8 322.5,98.9 328.4,96.8 340,96 355.7,90.5 369.4,90.5 377.2,91.5 387,95 396.7,100.3 404.5,106.1 410.4,114 416.25,123.7 420.2,127 428,128 439.7,126.6 453.4,125.2 471,124.6 486.25,121.7 492,120 510.9,118.2 529.6,118.2 539,117 550,116.1 571.1,114.9 585.2,110.8 601.6,107.7 613.3,107.3 620.3,109.6 629.7,111.4 635.5,108.8 649.6,107.9 670,107.5 695.8,107.3 711,108.5 721.6,108.2 739.1,107.3 752,105 767.3,102.9 778,100.3 788.4,98.2 794,97.5 797.6,93.4 801,91.7 811.3,90.5 821,88.2 834.5,85.8 847.6,85.2 850.5,84 855.2,84 858.2,82.8 869.3,82.6 871.6,81.8 879.8,81.8 885.1,82.6 889,84.3" fill="none" stroke="#4a4a4a" stroke-width="1.45" stroke-linejoin="round" transform="translate(0,0.15)"/>
<g fill="#484848">
<circle cx="125.6" cy="162.4" r="1.15"/>
<circle cx="131.9" cy="160.9" r="1.15"/>
<circle cx="138.55" cy="158.55" r="1.15"/>
<circle cx="145.2" cy="156.2" r="1.15"/>
<circle cx="150.25" cy="154.65" r="1.15"/>
<circle cx="155.3" cy="153.1" r="1.15"/>
<circle cx="161.15" cy="151.7" r="1.15"/>
<circle cx="167" cy="150.3" r="1.15"/>
<circle cx="174.45" cy="148.35" r="1.15"/>
<circle cx="181.9" cy="146.4" r="1.15"/>
<circle cx="189.7" cy="144.1" r="1.15"/>
<circle cx="197.85" cy="142.6" r="1.15"/>
<circle cx="206" cy="141.1" r="1.15"/>
<circle cx="213" cy="139.1" r="1.15"/>
<circle cx="220" cy="137.1" r="1.15"/>
<circle cx="227" cy="135.1" r="1.15"/>
<circle cx="234.15" cy="132.35" r="1.15"/>
<circle cx="241.3" cy="129.6" r="1.15"/>
<circle cx="249.53" cy="125.97" r="1.15"/>
<circle cx="257.77" cy="122.33" r="1.15"/>
<circle cx="266" cy="118.7" r="1.15"/>
<circle cx="274.7" cy="114.7" r="1.15"/>
<circle cx="283.4" cy="110.7" r="1.15"/>
<circle cx="288.3" cy="108.95" r="1.15"/>
<circle cx="293.2" cy="107.2" r="1.15"/>
<circle cx="298.1" cy="106.05" r="1.15"/>
<circle cx="303" cy="104.9" r="1.15"/>
<circle cx="308.85" cy="103.9" r="1.15"/>
<circle cx="314.7" cy="102.9" r="1.15"/>
<circle cx="322.5" cy="99" r="1.15"/>
<circle cx="328.4" cy="96.9" r="1.15"/>
<circle cx="334.2" cy="96.5" r="1.15"/>
<circle cx="340" cy="96.1" r="1.15"/>
<circle cx="347.85" cy="93.35" r="1.15"/>
<circle cx="355.7" cy="90.6" r="1.15"/>
<circle cx="362.55" cy="90.6" r="1.15"/>
<circle cx="369.4" cy="90.6" r="1.15"/>
<circle cx="377.2" cy="91.6" r="1.15"/>
<circle cx="382.1" cy="93.35" r="1.15"/>
<circle cx="387" cy="95.1" r="1.15"/>
<circle cx="391.85" cy="97.75" r="1.15"/>
<circle cx="396.7" cy="100.4" r="1.15"/>
<circle cx="404.5" cy="106.2" r="1.15"/>
<circle cx="410.4" cy="114.1" r="1.15"/>
<circle cx="416.25" cy="123.8" r="1.15"/>
<circle cx="420.2" cy="127.1" r="1.15"/>
<circle cx="428" cy="128.1" r="1.15"/>
<circle cx="433.85" cy="127.4" r="1.15"/>
<circle cx="439.7" cy="126.7" r="1.15"/>
<circle cx="446.55" cy="126" r="1.15"/>
<circle cx="453.4" cy="125.3" r="1.15"/>
<circle cx="462.2" cy="125" r="1.15"/>
<circle cx="471" cy="124.7" r="1.15"/>
<circle cx="478.62" cy="123.25" r="1.15"/>
<circle cx="486.25" cy="121.8" r="1.15"/>
<circle cx="492" cy="120.1" r="1.15"/>
<circle cx="498.3" cy="119.5" r="1.15"/>
<circle cx="504.6" cy="118.9" r="1.15"/>
<circle cx="510.9" cy="118.3" r="1.15"/>
<circle cx="517.13" cy="118.3" r="1.15"/>
<circle cx="523.37" cy="118.3" r="1.15"/>
<circle cx="529.6" cy="118.3" r="1.15"/>
<circle cx="534.3" cy="117.7" r="1.15"/>
<circle cx="539" cy="117.1" r="1.15"/>
<circle cx="544.5" cy="116.65" r="1.15"/>
<circle cx="550" cy="116.2" r="1.15"/>
<circle cx="557.03" cy="115.8" r="1.15"/>
<circle cx="564.07" cy="115.4" r="1.15"/>
<circle cx="571.1" cy="115" r="1.15"/>
<circle cx="578.15" cy="112.95" r="1.15"/>
<circle cx="585.2" cy="110.9" r="1.15"/>
<circle cx="593.4" cy="109.35" r="1.15"/>
<circle cx="601.6" cy="107.8" r="1.15"/>
<circle cx="607.45" cy="107.6" r="1.15"/>
<circle cx="613.3" cy="107.4" r="1.15"/>
<circle cx="620.3" cy="109.7" r="1.15"/>
<circle cx="625" cy="110.6" r="1.15"/>
<circle cx="629.7" cy="111.5" r="1.15"/>
<circle cx="635.5" cy="108.9" r="1.15"/>
<circle cx="642.55" cy="108.45" r="1.15"/>
<circle cx="649.6" cy="108" r="1.15"/>
<circle cx="656.4" cy="107.87" r="1.15"/>
<circle cx="663.2" cy="107.73" r="1.15"/>
<circle cx="670" cy="107.6" r="1.15"/>
<circle cx="678.6" cy="107.53" r="1.15"/>
<circle cx="687.2" cy="107.47" r="1.15"/>
<circle cx="695.8" cy="107.4" r="1.15"/>
<circle cx="703.4" cy="108" r="1.15"/>
<circle cx="711" cy="108.6" r="1.15"/>
<circle cx="716.3" cy="108.45" r="1.15"/>
<circle cx="721.6" cy="108.3" r="1.15"/>
<circle cx="730.35" cy="107.85" r="1.15"/>
<circle cx="739.1" cy="107.4" r="1.15"/>
<circle cx="745.55" cy="106.25" r="1.15"/>
<circle cx="752" cy="105.1" r="1.15"/>
<circle cx="759.65" cy="104.05" r="1.15"/>
<circle cx="767.3" cy="103" r="1.15"/>
<circle cx="772.65" cy="101.7" r="1.15"/>
<circle cx="778" cy="100.4" r="1.15"/>
<circle cx="783.2" cy="99.35" r="1.15"/>
<circle cx="788.4" cy="98.3" r="1.15"/>
<circle cx="794" cy="97.6" r="1.15"/>
<circle cx="797.6" cy="93.5" r="1.15"/>
<circle cx="801" cy="91.8" r="1.15"/>
<circle cx="806.15" cy="91.2" r="1.15"/>
<circle cx="811.3" cy="90.6" r="1.15"/>
<circle cx="816.15" cy="89.45" r="1.15"/>
<circle cx="821" cy="88.3" r="1.15"/>
<circle cx="827.75" cy="87.1" r="1.15"/>
<circle cx="834.5" cy="85.9" r="1.15"/>
<circle cx="841.05" cy="85.6" r="1.15"/>
<circle cx="847.6" cy="85.3" r="1.15"/>
<circle cx="850.5" cy="84.1" r="1.15"/>
<circle cx="855.2" cy="84.1" r="1.15"/>
<circle cx="858.2" cy="82.9" r="1.15"/>
<circle cx="863.75" cy="82.8" r="1.15"/>
<circle cx="869.3" cy="82.7" r="1.15"/>
<circle cx="871.6" cy="81.9" r="1.15"/>
<circle cx="879.8" cy="81.9" r="1.15"/>
<circle cx="885.1" cy="82.7" r="1.15"/>
<circle cx="889" cy="84.4" r="1.15"/>
</g>
<rect x="1002" y="375" width="13" height="128" fill="url(#lg)"/>
<g font-family="Liberation Sans, sans-serif" fill="#000">
<text x="12.2" y="32" font-size="26" letter-spacing="0.1" transform="translate(0,32) scale(1,1.04) translate(0,-32)">Coverdale Climb (LFCC)</text>
<text x="1011.5" y="28" font-size="19.5" text-anchor="end" letter-spacing="-0.1" transform="translate(0,28) scale(1,1.04) translate(0,-28)">3.8 km at 4.5%</text>
<text x="996.6" y="378.8" font-size="12.5" text-anchor="end">25%</text>
<text x="996.6" y="418" font-size="12.5" text-anchor="end">10%</text>
<text x="996.6" y="443" font-size="12.5" text-anchor="end">0%</text>
<text x="996.6" y="468.9" font-size="12.5" text-anchor="end">-10%</text>
<text x="996.6" y="506.8" font-size="12.5" text-anchor="end">(Grid: 1 km) -25%</text>
</g>
<defs>
<mask id="me1" maskUnits="userSpaceOnUse" x="0" y="440" width="300" height="72"><rect x="0" y="440" width="300" height="72" fill="#fff"/><path d="M47.2,483.6 A5.7,5.7 0 0 1 58.6,483.6 Z" fill="#000"/><path d="M47.2,489.6 L74.9,489.6 L74.9,502 L60.7,492 A6.4,5.9 0 0 1 47.2,489.6 Z" fill="#000"/></mask>
<mask id="me2" maskUnits="userSpaceOnUse" x="0" y="440" width="300" height="72"><rect x="0" y="440" width="300" height="72" fill="#fff"/><path d="M166,483.6 A5.7,5.7 0 0 1 177.4,483.6 Z" fill="#000"/><path d="M166,489.6 L193.7,489.6 L193.7,502 L179.5,492 A6.4,5.9 0 0 1 166,489.6 Z" fill="#000"/></mask>
<mask id="me3" maskUnits="userSpaceOnUse" x="0" y="440" width="300" height="72"><rect x="0" y="440" width="300" height="72" fill="#fff"/><path d="M241.2,483.6 A5.7,5.7 0 0 1 252.6,483.6 Z" fill="#000"/><path d="M241.2,489.6 L268.9,489.6 L268.9,502 L254.7,492 A6.4,5.9 0 0 1 241.2,489.6 Z" fill="#000"/></mask>
<mask id="mo" maskUnits="userSpaceOnUse" x="0" y="440" width="300" height="72"><rect x="0" y="440" width="300" height="72" fill="#fff"/><circle cx="98" cy="486.6" r="8" fill="#000"/><polygon points="102,468 140,468 140,510 122,510" fill="#000"/></mask>
</defs>
<g fill="#000">
<polygon points="4.7,469.3 16.4,469.3 24,484.5 31.6,469.3 43.3,469.3 25,503.5 23,503.5"/>
<circle cx="52.9" cy="486.4" r="17.6" mask="url(#me1)"/>
<rect x="68.7" y="455.3" width="11.7" height="48.2"/>
<circle cx="98" cy="486.6" r="17.6" mask="url(#mo)"/>
</g>
<g fill="#ff0030">
<polygon points="107.3,469.3 119,469.3 126.6,484.3 134.3,469.3 146,469.3 127.6,503.5 125.6,503.5"/>
<rect x="143.5" y="469.3" width="11.2" height="34.2"/><circle cx="148.9" cy="461.1" r="5.9"/>
<circle cx="171.7" cy="486.4" r="17.4" mask="url(#me2)"/>
<polygon points="184.8,470 195.5,470 200,486 205,470 215.5,470 220,486 225,470 236,470 228.9,503.3 218.7,503.3 209.5,487 199.9,503.3 190.7,503.3"/>
<circle cx="246.9" cy="486.4" r="17.4" mask="url(#me3)"/>
<rect x="262.7" y="470" width="11.8" height="33.3"/>
<path d="M262.7,492 C262.7,477 271,469.3 285.3,469.3 L285.3,481.3 C278,481.3 274.5,485 274.5,493 Z"/>
</g>
<text x="305.2" y="476.9" font-family="Liberation Sans, sans-serif" font-size="9.6" letter-spacing="2.5" fill="#1a1a1a" stroke="#1a1a1a" stroke-width="0.45" transform="translate(305.2,0) scale(0.8,1) translate(-305.2,0)">POWERED BY</text>
<g fill="#fc4c02">
<path d="M321.6,489.2 C319.6,487.5 317,487.1 314.5,487.1 C311,487.1 309.1,488.2 309.1,490.1 C309.1,494.6 320.6,492.6 320.6,497.5 C320.6,499.6 318.5,500.4 314.5,500.4 C311,500.4 308.3,499.4 306.2,497.6" fill="none" stroke="#fc4c02" stroke-width="6.6"/>
<path d="M323.3,484.1 L340.8,484.1 L340.8,489.7 L335.2,489.7 L335.2,503.4 L329.1,503.4 L329.1,489.7 L323.3,489.7 Z"/>
<path fill-rule="evenodd" d="M342.1,484.1 L353.5,484.1 C358,484.1 360.1,486.6 360.1,490.5 C360.1,493.6 358.8,495.8 356.6,496.8 L360.2,503.4 L353.2,503.4 L350.4,497.6 L347.9,497.6 L347.9,503.4 L342.1,503.4 Z M347.9,489.9 L352.5,489.9 C353.7,489.9 354.2,490.7 354.2,491.7 C354.2,492.7 353.6,493.5 352.5,493.5 L347.9,493.5 Z"/>
<polygon points="369.6,483.3 379.3,503.5 373.4,503.5 369.6,495.6 365.8,503.5 359.7,503.5"/>
<polygon points="373.4,483.9 379.9,483.9 383.7,495 387.5,483.9 394,483.9 384.4,503.8 382.4,503.8"/>
<polygon points="398.6,483.3 408.6,503.5 402.1,503.5 398.6,495.3 393.4,503.5 388.1,503.5"/>
</g>
</svg>
</body></html>
